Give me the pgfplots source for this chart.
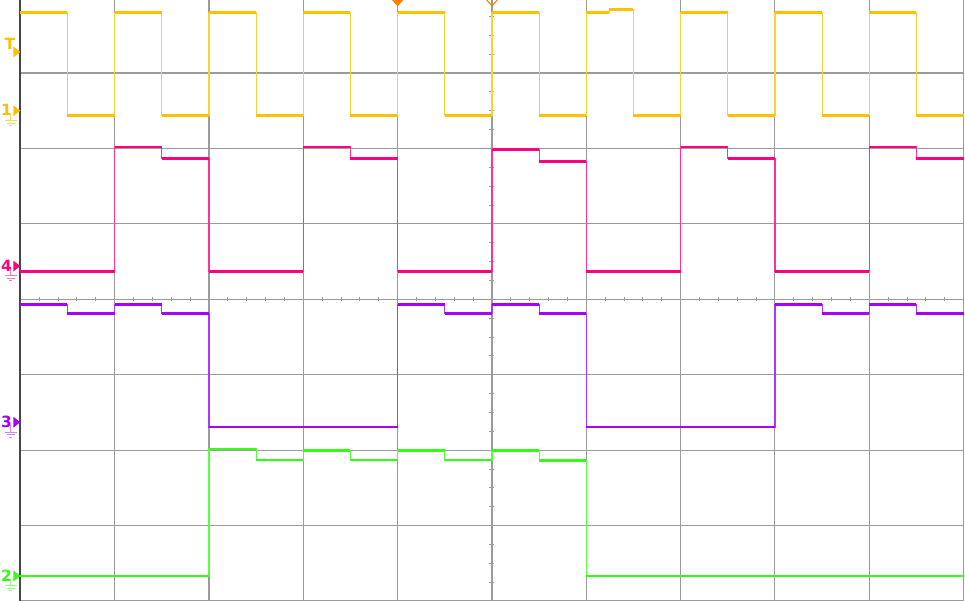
\documentclass[border=0pt]{standalone}
\usepackage{pgfplots}
\pgfplotsset{compat=1.18}
\usepackage{pgfplotstable}
\usepackage{fontspec}
\setmainfont{DejaVu Sans}
\definecolor{gridc}{RGB}{155,155,155}
\definecolor{edgec}{RGB}{70,70,70}
\definecolor{cy}{RGB}{255,192,0}
\definecolor{cyl}{RGB}{255,208,50}
\definecolor{cyg}{RGB}{255,215,90}
\definecolor{cp}{RGB}{255,0,128}
\definecolor{cpl}{RGB}{255,50,155}
\definecolor{cpg}{RGB}{255,120,190}
\definecolor{cv}{RGB}{166,0,255}
\definecolor{cvl}{RGB}{180,50,255}
\definecolor{cvg}{RGB}{205,130,255}
\definecolor{cg}{RGB}{50,255,20}
\definecolor{cgl}{RGB}{90,255,60}
\definecolor{cgg}{RGB}{140,255,120}
\definecolor{trig}{RGB}{255,128,0}

% channel 1 (yellow)
\pgfplotstableread{
x y
0    3.805
0.5  2.434
1    3.805
1.5  2.434
2    3.805
2.5  2.434
3    3.805
3.5  2.434
4    3.805
4.5  2.434
5    3.805
5.5  2.434
6    3.805
6.244 3.84
6.5  2.434
7    3.805
7.5  2.434
8    3.805
8.5  2.434
9    3.805
9.5  2.434
10   2.434
}\chone
% channel 4 (pink)
\pgfplotstableread{
x y
0    0.366
1    2.02
1.5  1.87
2    0.366
3    2.02
3.5  1.87
4    0.366
5    1.99
5.5  1.83
6    0.366
7    2.02
7.5  1.87
8    0.366
9    2.02
9.5  1.87
10   1.87
}\chfour
% channel 3 (purple)
\pgfplotstableread{
x y
0    -0.07
0.5  -0.19
1    -0.07
1.5  -0.19
2    -1.694
4    -0.07
4.5  -0.19
5    -0.07
5.5  -0.19
6    -1.694
8    -0.07
8.5  -0.19
9    -0.07
9.5  -0.19
10   -0.19
}\chthree
% channel 2 (green)
\pgfplotstableread{
x y
0    -3.668
2    -1.985
2.5  -2.13
3    -2.005
3.5  -2.13
4    -2.005
4.5  -2.13
5    -2.005
5.5  -2.14
6    -3.668
10   -3.668
}\chtwo

\newcommand{\chmark}[4]{% coord, colour, ground colour, label
  \fill[#2] (#1) -- ++(-7bp,5.5bp) -- ++(0,-11bp) -- cycle;
  \node[text=#2, font=\fontsize{15.5}{16}\selectfont\bfseries, inner sep=0pt] at ([xshift=-13.8bp,yshift=0.5bp]#1) {#4};
  \draw[#3, line width=1bp] ([xshift=-9.3bp,yshift=-3bp]#1) -- ([xshift=-9.3bp,yshift=-9.5bp]#1);
  \draw[#3, line width=1bp] ([xshift=-15.3bp,yshift=-9.8bp]#1) -- ([xshift=-3.6bp,yshift=-9.8bp]#1);
  \draw[#3, line width=1bp] ([xshift=-13.3bp,yshift=-12.3bp]#1) -- ([xshift=-5.6bp,yshift=-12.3bp]#1);
  \draw[#3, line width=1bp] ([xshift=-11bp,yshift=-14.8bp]#1) -- ([xshift=-7.8bp,yshift=-14.8bp]#1);
}

\begin{document}
\begin{tikzpicture}
\begin{axis}[
  name=ax, at={(0,0)}, anchor=origin,
  scale only axis, width=943.3bp, height=601bp,
  xmin=0, xmax=10, ymin=-4, ymax=3.968,
  xtick={0,...,10}, ytick={-4,...,4},
  xticklabels={}, yticklabels={},
  major tick length=0pt,
  grid=major,
  grid style={line width=1.1bp, color=gridc},
  axis line style={draw=none},
  clip=false,
]
% fine ticks on centre lines
\pgfplotsinvokeforeach{-15,...,15}{
  \draw[gridc, line width=1bp] ([xshift=-2.5bp]axis cs:5,{#1*0.25}) -- ([xshift=2.5bp]axis cs:5,{#1*0.25});
}
\pgfplotsinvokeforeach{1,...,49}{
  \draw[gridc, line width=1bp] ([yshift=-2.2bp]axis cs:{#1*0.2},0) -- ([yshift=2.2bp]axis cs:{#1*0.2},0);
}
\draw[edgec, line width=1.6bp] (axis cs:0,-4) -- (axis cs:0,3.968);

\addplot[const plot, line width=1.2bp, color=cyl, forget plot] table {\chone};
\addplot[jump mark left, line width=2.8bp, color=cy, forget plot] table {\chone};
\addplot[const plot, line width=1.2bp, color=cpl, forget plot] table {\chfour};
\addplot[jump mark left, line width=2.8bp, color=cp, forget plot] table {\chfour};
\addplot[const plot, line width=1.2bp, color=cvl, forget plot] table {\chthree};
\addplot[jump mark left, line width=2.8bp, color=cv, forget plot] table {\chthree};
\addplot[const plot, line width=1.2bp, color=cgl, forget plot] table {\chtwo};
\addplot[jump mark left, line width=2.8bp, color=cg, forget plot] table {\chtwo};

\coordinate (mT) at (axis cs:0,3.28);
\coordinate (m1) at (axis cs:0,2.50);
\coordinate (m4) at (axis cs:0,0.44);
\coordinate (m3) at (axis cs:0,-1.63);
\coordinate (m2) at (axis cs:0,-3.668);
\coordinate (t1) at (axis cs:4,3.968);
\coordinate (t2) at (axis cs:5,3.968);
\coordinate (bl) at (axis cs:0,-4);
\coordinate (tr) at (axis cs:10,3.968);
\end{axis}
% trigger level marker
\fill[cy] (mT) -- ++(-7bp,5.5bp) -- ++(0,-11bp) -- cycle;
\node[text=cy, font=\fontsize{15.5}{16}\selectfont\bfseries, inner sep=0pt] at ([xshift=-10.5bp,yshift=8bp]mT) {T};
\chmark{m1}{cy}{cyg}{1}
\chmark{m4}{cp}{cpg}{4}
\chmark{m3}{cv}{cvg}{3}
\chmark{m2}{cg}{cgg}{2}
% trigger position markers
\fill[trig] ([xshift=-6.5bp,yshift=1bp]t1) -- ([yshift=-6.5bp]t1) -- ([xshift=6.5bp,yshift=1bp]t1) -- cycle;
\draw[trig, line width=1.1bp] ([xshift=-6bp,yshift=1bp]t2) -- ([yshift=-6bp]t2) -- ([xshift=6bp,yshift=1bp]t2);
\pgfresetboundingbox
\path[use as bounding box] ([xshift=-20.3bp]bl) rectangle ([xshift=1.4bp]tr);
\end{tikzpicture}
\end{document}
